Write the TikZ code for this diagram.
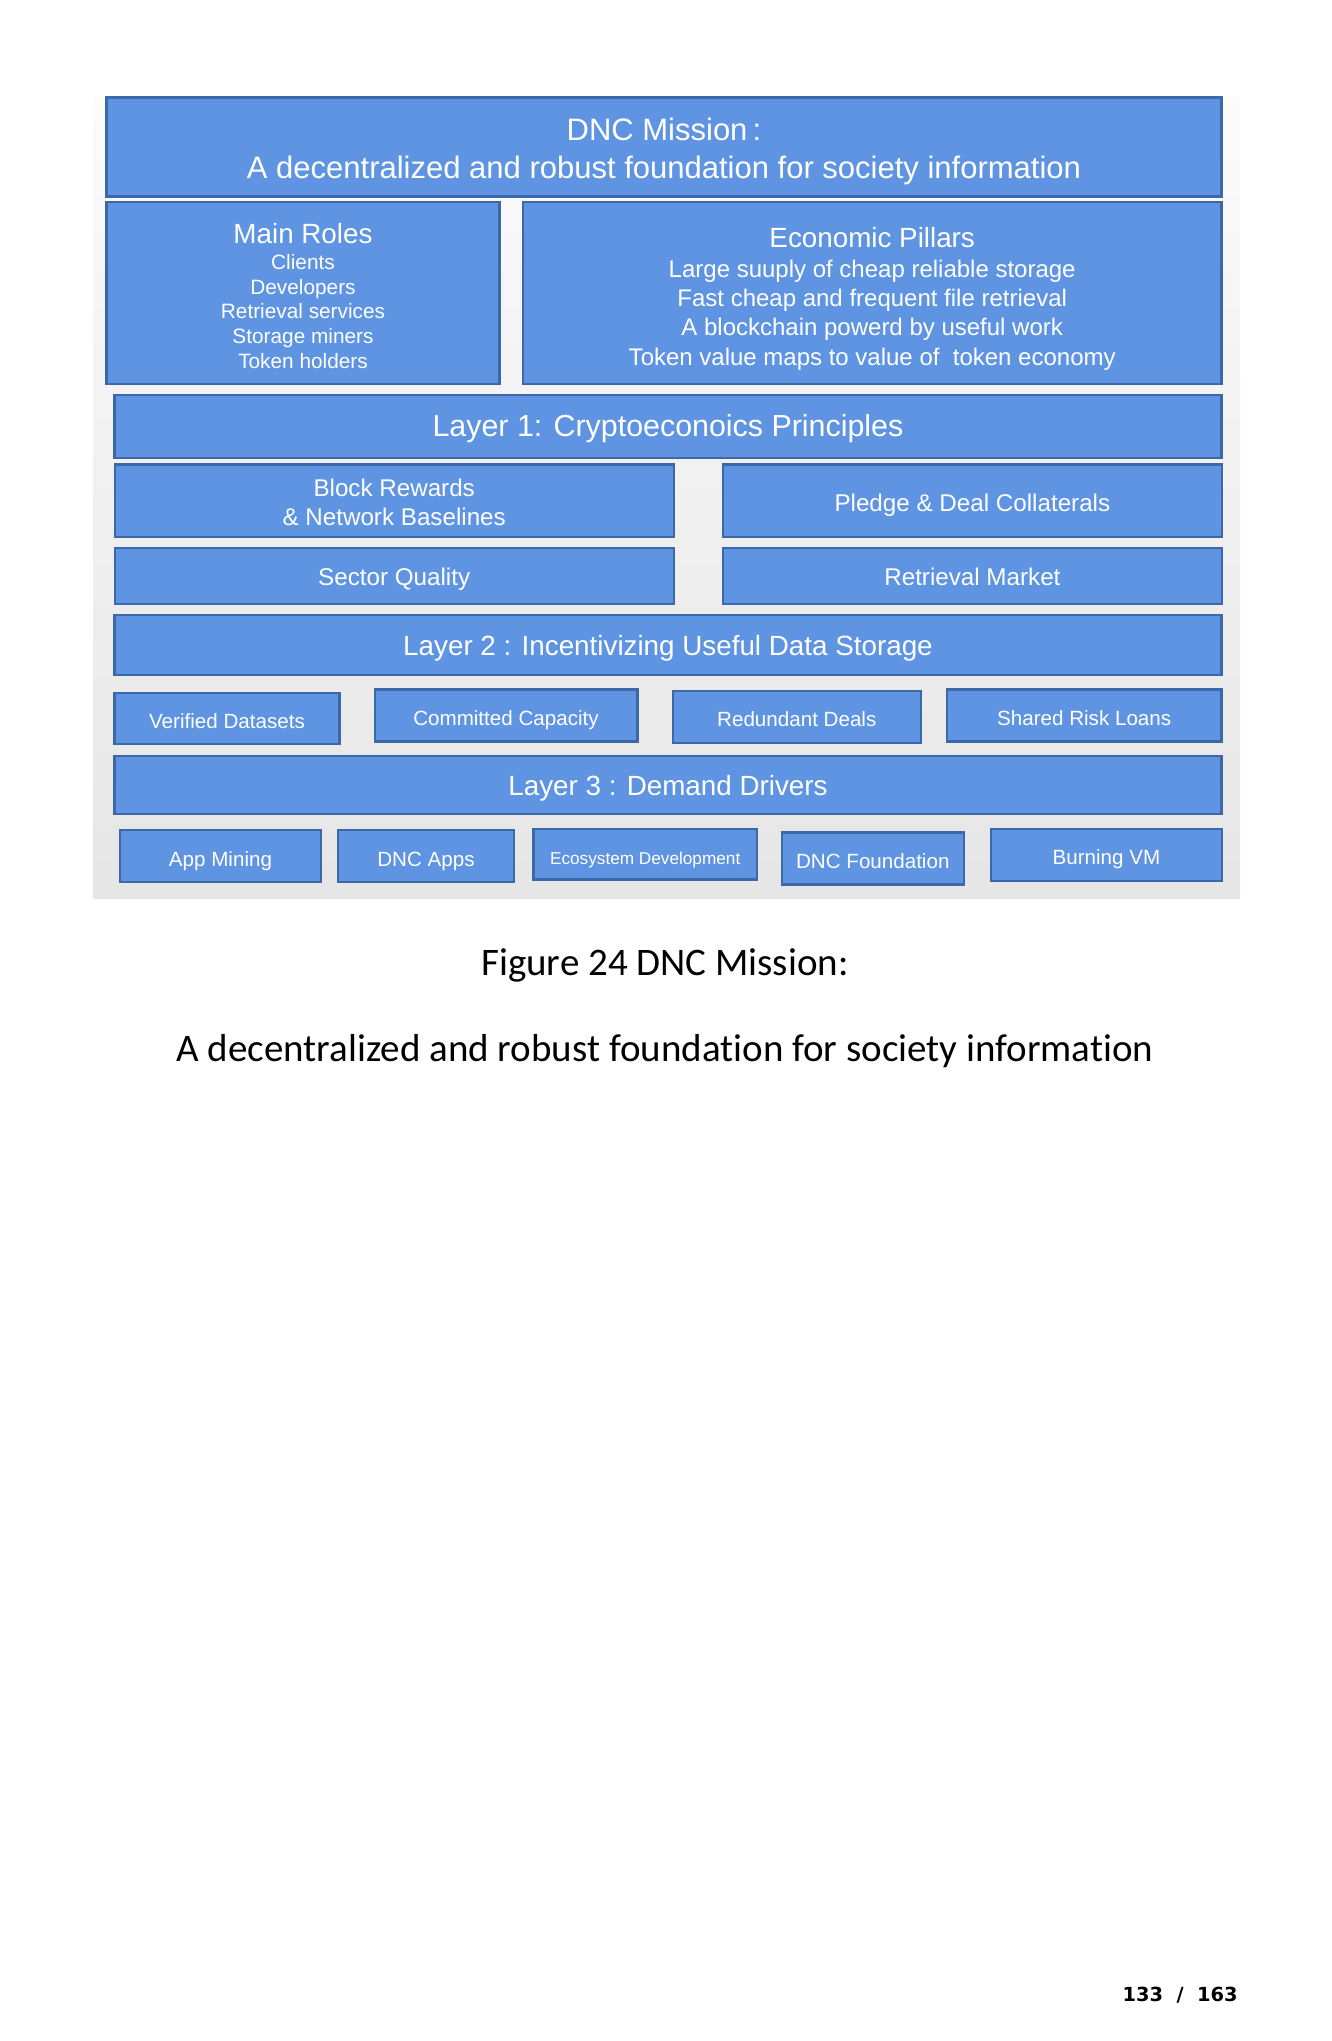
\documentclass[tikz,border=0pt]{standalone}
\usepackage{fontspec}
\setmainfont{Liberation Sans}
\newfontfamily\capfont{Carlito}[Ligatures=NoCommon]
\newfontfamily\pgnfont{DejaVu Sans}
\usetikzlibrary{positioning}
\definecolor{boxblue}{RGB}{94,148,226}
\definecolor{boxedge}{RGB}{60,104,170}

\begin{document}
\begin{tikzpicture}[
    x=0.5pt, y=-0.5pt,
    blk/.style={rectangle, draw=boxedge, fill=boxblue, line width=1.1pt, text=white, align=center, inner sep=1pt, text depth=0pt},
    oneline/.style={blk, text height=0.72em+3pt},
    layer/.style={oneline, minimum width=553.5pt, font=\fontsize{13.9}{16}\selectfont},
    pillar/.style={blk, minimum height=91pt},
    principle/.style={oneline, font=\fontsize{12.1}{14.3}\selectfont},
    item/.style={oneline, minimum height=26pt, font=\fontsize{10.3}{12.4}\selectfont},
    caption/.style={anchor=base, font=\capfont\fontsize{19.5}{23}\selectfont}
]
\useasboundingbox (0,0) rectangle (1332,2041);

% light panel behind the layers
\fill[top color=gray!3, bottom color=gray!20] (93,97) rectangle (1240,898);

% Mission
\node[blk, minimum width=557.5pt, minimum height=49.5pt, font=\fontsize{15.5}{18.9}\selectfont] (mission) at (664,147) {\rule{0pt}{12.4pt}DNC Mission\,:\\A decentralized and robust foundation for society information};

% Roles and pillars
\node[pillar, minimum width=196.5pt, font=\fontsize{10.4}{12.35}\selectfont] (roles) at (303,292.7) {%
    \rule{0pt}{13.4pt}{\fontsize{13.9}{14}\selectfont Main Roles}\\[0.5pt]
    Clients\\
    Developers\\
    Retrieval services\\
    Storage miners\\
    Token holders};
\node[pillar, minimum width=349.25pt, font=\fontsize{12}{14.6}\selectfont] (pillars) at (872.2,292.7) {%
    \rule{0pt}{13.4pt}{\fontsize{13.9}{14}\selectfont Economic Pillars}\\[0.5pt]
    Large suuply of cheap reliable storage\\
    Fast cheap and frequent file retrieval\\
    A blockchain powerd by useful work\\
    Token value maps to value of~ token economy};

% Layer 1
\node[layer, minimum height=31.25pt, font=\fontsize{15.2}{17}\selectfont] (layer1) at (668,426.6) {Layer 1: Cryptoeconoics Principles};
\node[blk, minimum width=279.6pt, minimum height=36.4pt, font=\fontsize{12.1}{14.3}\selectfont] (blockrw) at (394.2,500.8) {\rule{0pt}{10.1pt}Block Rewards\\\& Network Baselines};
\node[principle, minimum width=249.2pt, minimum height=36.4pt] (pledge) at (972.4,500.8) {Pledge \& Deal Collaterals};
\node[principle, minimum width=279.6pt, minimum height=28pt] (sector) at (394.2,575.6) {Sector Quality};
\node[principle, minimum width=249.2pt, minimum height=28pt] (retrieval) at (972.4,575.6) {Retrieval Market};

% Layer 2
\node[layer, minimum height=30pt] (layer2) at (668,645.2) {Layer 2 : Incentivizing Useful Data Storage};
\node[item, minimum width=112.5pt, minimum height=25.4pt] (verified) at (227,718.7) {Verified Datasets};
\node[item, minimum width=131.4pt] (committed) at (506,715.5) {Committed Capacity};
\node[item, minimum width=124.2pt] (redundant) at (796.8,716.7) {Redundant Deals};
\node[item, minimum width=137.2pt] (sharedrisk) at (1084.2,715.5) {Shared Risk Loans};

% Layer 3
\node[layer, minimum height=29.25pt] (layer3) at (668,785) {Layer 3 : Demand Drivers};
\node[item, minimum width=100.8pt] (appmining) at (220.5,856) {App Mining};
\node[item, minimum width=87.8pt] (dncapps) at (426,856) {DNC Apps};
\node[item, minimum width=111.8pt, minimum height=25.4pt, font=\fontsize{8.6}{10}\selectfont] (ecosystem) at (645.2,854) {Ecosystem Development};
\node[item, minimum width=91pt] (dncfound) at (872.8,858.5) {DNC Foundation};
\node[item, minimum width=115.2pt] (burningvm) at (1106.4,854.6) {Burning VM};

% Caption and page number
\node[caption] (caption1) at (665,975.5) {Figure 24 DNC Mission:};
\node[caption] (caption2) at (665,1061.5) {A decentralized and robust foundation for society information};
\node[anchor=base east, inner sep=0pt, font=\pgnfont\bfseries\fontsize{9.7}{11}\selectfont] (pagenum) at (1238,2001) {133\ \ /\ \ 163};

\end{tikzpicture}
\end{document}
